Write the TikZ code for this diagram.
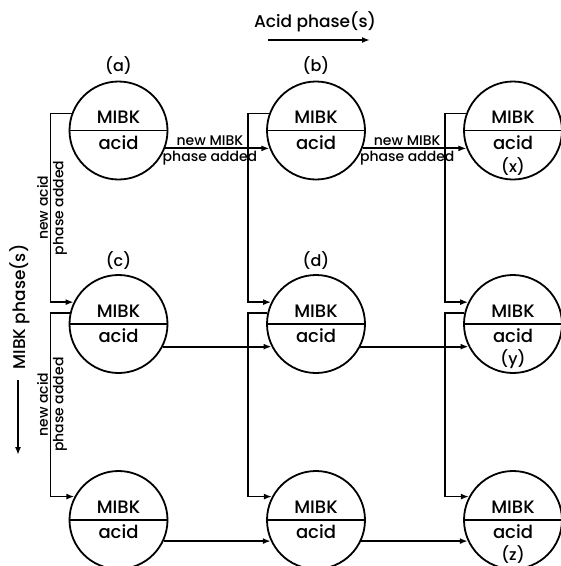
\documentclass[tikz,border=0pt]{standalone}
\usepackage{fontspec}
\setmainfont{Poppins}[UprightFont=* Medium]
\usetikzlibrary{arrows.meta}

\begin{document}
\begin{tikzpicture}[
    x=1pt, y=-1pt,
    vessel/.style={draw, circle, line width=1.8pt, minimum size=98pt, inner sep=0pt},
    layer/.style={font=\fontsize{18}{20}\selectfont, inner sep=0pt},
    tag/.style={font=\fontsize{16}{18}\selectfont, inner sep=0pt},
    note/.style={font=\fontsize{14}{16}\selectfont, inner sep=1.5pt},
    axis/.style={font=\fontsize{17}{20}\selectfont, inner sep=0pt},
    flow/.style={-{Latex[length=8pt,width=6pt]}, line width=1.8pt}
]
\useasboundingbox (0,0) rectangle (561,566);

% vessels, row by row
\node[vessel] (a) at (118.5,130.5) {};
\node[vessel] (b) at (316,130.5) {};
\node[vessel] (x) at (513,130.5) {};
\node[vessel] (c) at (118.5,324) {};
\node[vessel] (d) at (316,324) {};
\node[vessel] (y) at (513,324) {};
\node[vessel] (p) at (118.5,520) {};
\node[vessel] (q) at (316,520) {};
\node[vessel] (z) at (513,520) {};

\foreach \v in {a,b,x,c,d,y,p,q,z} {
    \draw[line width=1.8pt] (\v.west) -- (\v.east);
    \node[layer] (\v-mibk) at ([yshift=13pt]\v.center) {MIBK};
    \node[layer] (\v-acid) at ([yshift=-12pt]\v.center) {acid};
    \coordinate (\v-j) at ([xshift=-68pt]\v.center);
}

\node[tag] (a-tag) at ([yshift=65pt]a.center) {(a)};
\node[tag] (b-tag) at ([yshift=65pt]b.center) {(b)};
\node[tag] (c-tag) at ([yshift=63pt]c.center) {(c)};
\node[tag] (d-tag) at ([yshift=63pt]d.center) {(d)};
\node[tag] (x-tag) at ([yshift=-36pt]x.center) {(x)};
\node[tag] (y-tag) at ([yshift=-35pt]y.center) {(y)};
\node[tag] (z-tag) at ([yshift=-35pt]z.center) {(z)};

% acid phases move right
\draw[flow] (a.-21) -- node[note, pos=0.43, above] {new MIBK}
    node[note, pos=0.43, below] {phase added} (b.201);
\draw[flow] (b.-21) -- node[note, pos=0.43, above] {new MIBK}
    node[note, pos=0.43, below] {phase added} (x.201);
\draw[flow] (c.-27) -- (d.207);
\draw[flow] (d.-27) -- (y.207);
\draw[flow] (p.-25) -- (q.205);
\draw[flow] (q.-25) -- (z.205);

% MIBK phases move down
\draw[flow] (a.160) -| (a-j |- c.154)
    node[note, pos=0.75, rotate=90, anchor=south] {new acid}
    node[note, pos=0.75, rotate=90, anchor=north] {phase added} -- (c.154);
\draw[flow] (c.167) -| (c-j |- p.152)
    node[note, pos=0.75, rotate=90, anchor=south] {new acid}
    node[note, pos=0.75, rotate=90, anchor=north] {phase added} -- (p.152);
\draw[flow] (b.160) -| (b-j |- d.154) -- (d.154);
\draw[flow] (d.167) -| (d-j |- q.152) -- (q.152);
\draw[flow] (x.160) -| (x-j |- y.154) -- (y.154);
\draw[flow] (y.167) -| (y-j |- z.152) -- (z.152);

% phase directions
\node[axis] (acid-dir) at (315,22) {Acid phase(s)};
\coordinate (acid-tail) at (268,40);
\coordinate (acid-head) at (370,40);
\draw[flow] (acid-tail) -- (acid-head);
\node[axis, rotate=90] (mibk-dir) at (20,307) {MIBK phase(s)};
\coordinate (mibk-tail) at (18,380);
\coordinate (mibk-head) at (18,455);
\draw[flow] (mibk-tail) -- (mibk-head);
\end{tikzpicture}
\end{document}
